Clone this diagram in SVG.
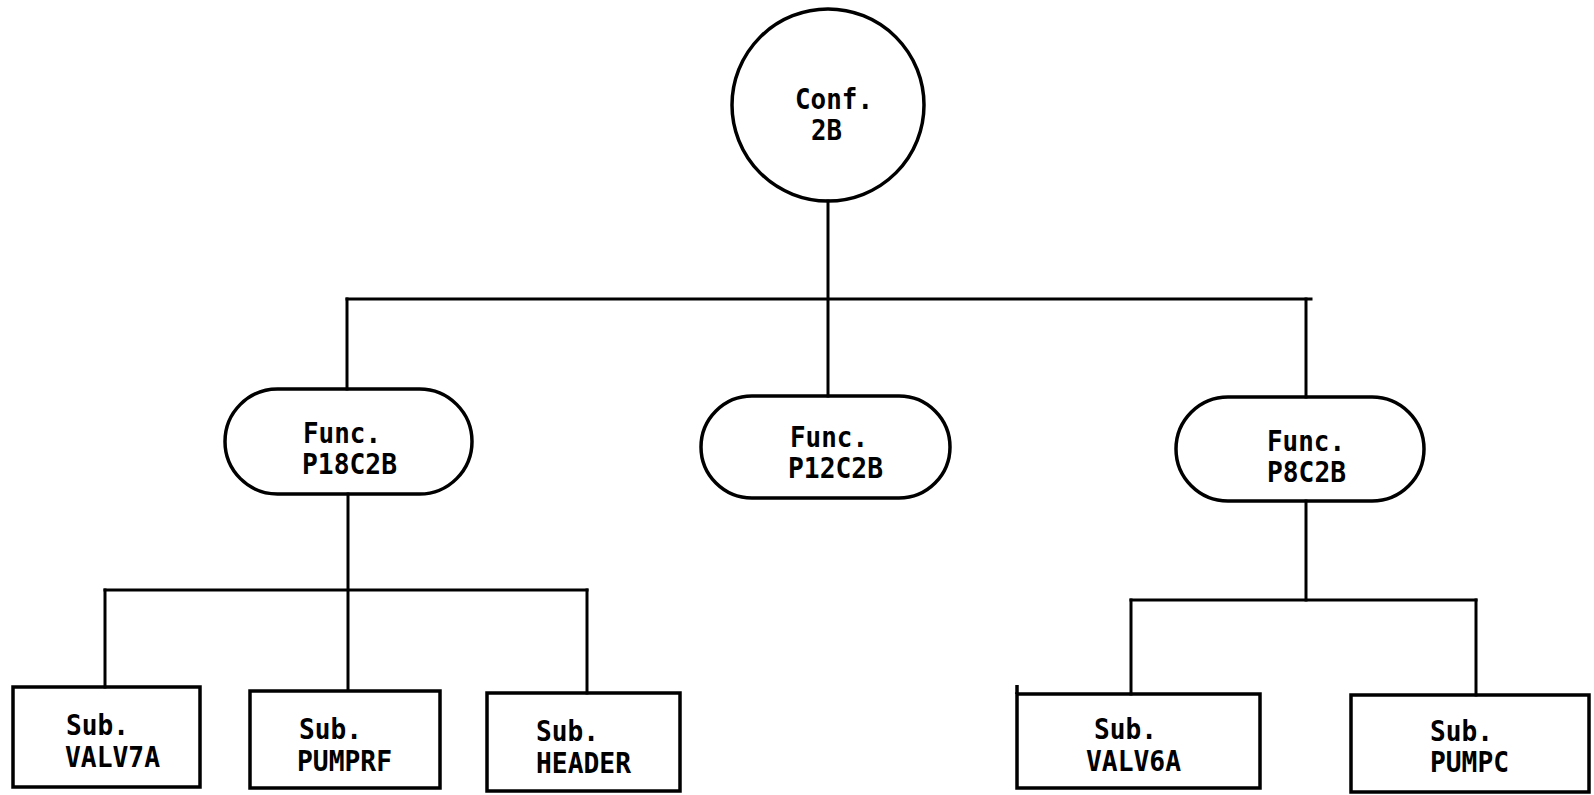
<svg xmlns="http://www.w3.org/2000/svg" width="1594" height="795" viewBox="0 0 1594 795">
<style>
.shape{fill:none;stroke:#000;stroke-width:3.5}
.conn{fill:none;stroke:#000;stroke-width:3;stroke-linecap:square}
text{font-family:"DejaVu Sans Mono","Liberation Mono",monospace;font-weight:bold;font-size:28px;fill:#000}
</style>
<rect width="1594" height="795" fill="#fff"/>
<g id="connectors">
<path class="conn" d="M828 201 V396"/>
<path class="conn" d="M347 299 H1311"/>
<path class="conn" d="M347 299 V389"/>
<path class="conn" d="M1306 299 V397"/>
<path class="conn" d="M348 494 V690"/>
<path class="conn" d="M105 590 H587"/>
<path class="conn" d="M105 590 V687"/>
<path class="conn" d="M587 590 V693"/>
<path class="conn" d="M1306 501 V600"/>
<path class="conn" d="M1131 600 H1476"/>
<path class="conn" d="M1131 600 V694"/>
<path class="conn" d="M1476 600 V695"/>
</g>
<g id="conf2b">
<circle class="shape" cx="828" cy="105" r="96" stroke-width="4"/>
<text x="795" y="109" textLength="78" lengthAdjust="spacingAndGlyphs">Conf.</text>
<text x="811" y="140" textLength="31" lengthAdjust="spacingAndGlyphs">2B</text>
</g>
<g id="p18c2b">
<rect class="shape" x="225" y="389" width="247" height="105" rx="52.5"/>
<text x="303" y="443" textLength="78" lengthAdjust="spacingAndGlyphs">Func.</text>
<text x="302" y="474" textLength="95" lengthAdjust="spacingAndGlyphs">P18C2B</text>
</g>
<g id="p12c2b">
<rect class="shape" x="701" y="396" width="249" height="102" rx="51"/>
<text x="790" y="447" textLength="78" lengthAdjust="spacingAndGlyphs">Func.</text>
<text x="788" y="478" textLength="95" lengthAdjust="spacingAndGlyphs">P12C2B</text>
</g>
<g id="p8c2b">
<rect class="shape" x="1176" y="397" width="248" height="104" rx="52"/>
<text x="1267" y="451" textLength="78" lengthAdjust="spacingAndGlyphs">Func.</text>
<text x="1267" y="482" textLength="79" lengthAdjust="spacingAndGlyphs">P8C2B</text>
</g>
<g id="valv7a">
<rect class="shape" x="13" y="687" width="187" height="100"/>
<text x="66" y="735" textLength="63" lengthAdjust="spacingAndGlyphs">Sub.</text>
<text x="65" y="767" textLength="95" lengthAdjust="spacingAndGlyphs">VALV7A</text>
</g>
<g id="pumprf">
<rect class="shape" x="250" y="691" width="190" height="97"/>
<text x="299" y="739" textLength="63" lengthAdjust="spacingAndGlyphs">Sub.</text>
<text x="297" y="771" textLength="95" lengthAdjust="spacingAndGlyphs">PUMPRF</text>
</g>
<g id="header">
<rect class="shape" x="487" y="693" width="193" height="98"/>
<text x="536" y="741" textLength="63" lengthAdjust="spacingAndGlyphs">Sub.</text>
<text x="536" y="773" textLength="95" lengthAdjust="spacingAndGlyphs">HEADER</text>
</g>
<g id="valv6a">
<rect class="shape" x="1017" y="694" width="243" height="94"/>
<path class="shape" d="M1017 694 V685"/>
<text x="1094" y="739" textLength="63" lengthAdjust="spacingAndGlyphs">Sub.</text>
<text x="1086" y="771" textLength="95" lengthAdjust="spacingAndGlyphs">VALV6A</text>
</g>
<g id="pumpc">
<rect class="shape" x="1351" y="695" width="238" height="97"/>
<text x="1430" y="741" textLength="63" lengthAdjust="spacingAndGlyphs">Sub.</text>
<text x="1430" y="772" textLength="79" lengthAdjust="spacingAndGlyphs">PUMPC</text>
</g>
</svg>
